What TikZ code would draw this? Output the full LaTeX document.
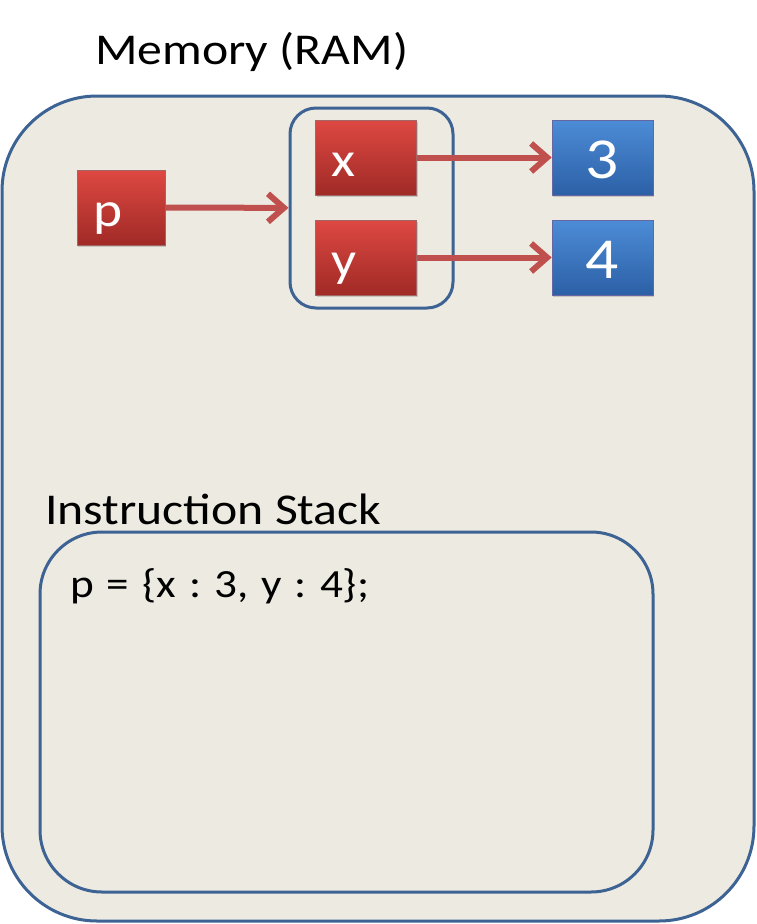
\documentclass[tikz,border=0pt]{standalone}
\usepackage{fontspec}
\setmainfont{Carlito}
\usetikzlibrary{positioning, arrows.meta, shadows}

\definecolor{ramfill}{RGB}{237,235,225}
\definecolor{ramline}{RGB}{61,98,148}
\definecolor{arrowred}{RGB}{192,80,77}

% the slide text is a little wider than the font
\newcommand{\wider}[1]{\scalebox{1.13}[1]{#1}}

\tikzset{
	redbox/.style={draw=red!40!black!60, line width=0.6pt, top color={rgb,255:red,222;green,72;blue,66}, bottom color={rgb,255:red,160;green,42;blue,38}, inner xsep=16pt, text width=#1, align=left, minimum height=75pt, text height=38pt, text depth=0pt, text=white, font=\fontsize{49}{49}\selectfont, drop shadow={shadow xshift=1pt, shadow yshift=-2pt, opacity=0.35}},
	redbox/.default=69pt,
	bluebox/.style={draw=blue!40!black!60, line width=0.6pt, top color={rgb,255:red,76;green,140;blue,214}, bottom color={rgb,255:red,44;green,96;blue,166}, minimum width=101pt, minimum height=75pt, text height=42pt, text depth=0pt, text=white, font=\fontsize{58}{58}\selectfont, drop shadow={shadow xshift=1pt, shadow yshift=-2pt, opacity=0.35}},
	ptr/.style={draw=arrowred, line width=6pt, -{Straight Barb[length=16pt, width=28pt, line width=6pt]}}
}

\begin{document}
\frenchspacing
\begin{tikzpicture}[x=1pt, y=-1pt]
		
		\useasboundingbox (0,0) rectangle (756,924);
		
		% memory and stack
		\draw [fill=ramfill, draw=ramline, line width=3pt, rounded corners=95pt] (2,96) rectangle (754,921);
		\node [font=\fontsize{44}{44}\selectfont, anchor=base west, inner sep=0pt] (ramlabel) at (95,64) {\wider{Memory (RAM)}};
		
		\node [font=\fontsize{44}{44}\selectfont, anchor=base west, inner sep=0pt] (stacklabel) at (45,524) {\wider{Instruction Stack}};
		\draw [draw=ramline, line width=3pt, rounded corners=62pt] (40,532) rectangle (653,892);
		\node [font=\fontsize{40}{40}\selectfont, anchor=base west, inner sep=0pt] (code) at (70,597) {\wider{\spaceskip=11.5pt p = \{x : 3, y : 4\};}};
		
		% object
		\node [draw=ramline, line width=3pt, rounded corners=26pt, minimum width=163pt, minimum height=200pt] (obj) at (371.5,208) {};
		
		\node [redbox=56pt] (p) at (121,207.5) {\wider{p}};
		\node [redbox] (x) at (366,157.5) {\wider{x}};
		\node [redbox] (y) at (366,257.5) {\wider{y}};
		\node [bluebox] (three) at (602.5,157.5) {\wider{3}};
		\node [bluebox] (four) at (602.5,257.5) {\wider{4}};
		
		\draw [ptr] (p) -- (obj);
		\draw [ptr] (x) -- (three);
		\draw [ptr] (y) -- (four);
		
		\end{tikzpicture}
\end{document}
